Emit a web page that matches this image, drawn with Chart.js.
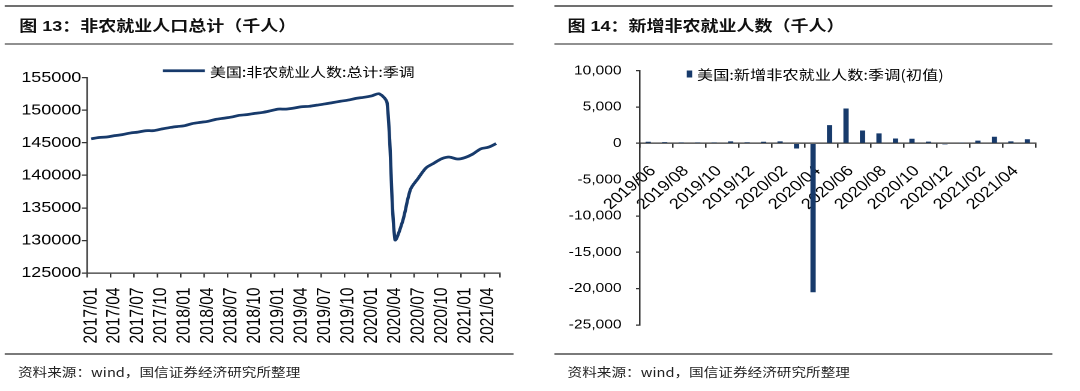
<!DOCTYPE html>
<html>
<head>
<meta charset="utf-8">
<script src="https://cdn.jsdelivr.net/npm/chart.js@4.4.1/dist/chart.umd.min.js"></script>
<style>
  html, body { margin: 0; padding: 0; background: #fff; }
  /* the source image is stretched sideways, so the page is laid out 900px wide and scaled */
  #page { position: absolute; left: 0; top: 0; width: 900px; height: 391px; transform: scaleX(1.2); transform-origin: 0 0; }
  .rule { position: absolute; }
  .title { position: absolute; height: 20px; line-height: 20px; white-space: nowrap; color: #111;
           font: bold 15px "Liberation Sans", "Noto Sans CJK SC", sans-serif; }
  .src { position: absolute; height: 18px; line-height: 18px; white-space: nowrap; color: #222;
         font: 12.2px "Noto Sans CJK SC", sans-serif; }
  canvas { position: absolute; }
</style>
</head>
<body>
<div id="page">
  <div class="rule" style="left:4px;top:5px;width:424px;height:2px;background:#707070"></div>
  <div class="title" style="left:16px;top:14px">图 13：非农就业人口总计（千人）</div>
  <div class="rule" style="left:4px;top:43px;width:424px;height:1.5px;background:#909090"></div>
  <canvas id="chartLeft" width="450" height="300" style="left:0;top:50px"></canvas>
  <div class="rule" style="left:4px;top:353px;width:424px;height:1.5px;background:#7a7a7a"></div>
  <div class="src" style="left:15px;top:363px">资料来源：wind，国信证券经济研究所整理</div>

  <div class="rule" style="left:462px;top:5px;width:415px;height:2px;background:#707070"></div>
  <div class="title" style="left:473px;top:14px">图 14：新增非农就业人数（千人）</div>
  <div class="rule" style="left:462px;top:43px;width:415px;height:1.5px;background:#909090"></div>
  <canvas id="chartRight" width="450" height="300" style="left:450px;top:50px"></canvas>
  <div class="rule" style="left:462px;top:353px;width:415px;height:1.5px;background:#7a7a7a"></div>
  <div class="src" style="left:473px;top:363px">资料来源：wind，国信证券经济研究所整理</div>
</div>

<script>
// 图13 data: monthly total nonfarm payrolls (thousands)
const monthsA = [
  '2017/01','2017/02','2017/03','2017/04','2017/05','2017/06','2017/07','2017/08','2017/09','2017/10','2017/11','2017/12',
  '2018/01','2018/02','2018/03','2018/04','2018/05','2018/06','2018/07','2018/08','2018/09','2018/10','2018/11','2018/12',
  '2019/01','2019/02','2019/03','2019/04','2019/05','2019/06','2019/07','2019/08','2019/09','2019/10','2019/11','2019/12',
  '2020/01','2020/02','2020/03','2020/04','2020/05','2020/06','2020/07','2020/08','2020/09','2020/10','2020/11','2020/12',
  '2021/01','2021/02','2021/03','2021/04','2021/05'
];
const payrolls = [
  145612, 145812, 145895, 146099, 146254, 146499, 146645, 146854, 146872, 147109, 147325, 147488,
  147631, 147956, 148137, 148306, 148598, 148776, 148954, 149220, 149325, 149521, 149667, 149908,
  150175, 150178, 150325, 150541, 150604, 150785, 150968, 151176, 151378, 151564, 151823, 151985,
  152199, 152523, 151090, 130161, 132994, 137840, 139566, 141149, 141865, 142545, 142809, 142503,
  142736, 143272, 144057, 144323, 144882
];
const yTicksA = { min: 125000, max: 155000, step: 5000 };

// 图14 data: monthly new nonfarm payrolls, first print (thousands)
const monthsB = [
  '2019/06','2019/07','2019/08','2019/09','2019/10','2019/11','2019/12',
  '2020/01','2020/02','2020/03','2020/04','2020/05','2020/06','2020/07','2020/08','2020/09','2020/10','2020/11','2020/12',
  '2021/01','2021/02','2021/03','2021/04','2021/05'
];
const newJobs = [
  224, 164, 130, 136, 128, 266, 145,
  225, 273, -701, -20500, 2509, 4800, 1763, 1371, 661, 638, 245, -140,
  49, 379, 916, 266, 559
];
const yTicksB = { min: -25000, max: 10000, step: 5000 };

const navy = '#173a6b';
const axisColor = '#333333';

Chart.defaults.font.family = '"Liberation Sans", Arial, sans-serif';
Chart.defaults.color = '#000';

// legend drawn inside the plot, over the top of the axis range like the original
const plotLegend = {
  id: 'plotLegend',
  afterDraw(chart, args, opts) {
    const ctx = chart.ctx;
    const area = chart.chartArea;
    const ds = chart.data.datasets[0];
    const x = area.left + opts.dx;
    const y = area.top + opts.dy;
    ctx.save();
    if (opts.marker === 'line') {
      ctx.strokeStyle = ds.borderColor;
      ctx.lineWidth = opts.lineWidth;
      ctx.beginPath();
      ctx.moveTo(x, y);
      ctx.lineTo(x + opts.w, y);
      ctx.stroke();
    } else {
      ctx.fillStyle = ds.backgroundColor;
      ctx.fillRect(x, y - opts.h / 2, opts.w, opts.h);
    }
    ctx.fillStyle = '#000';
    ctx.font = opts.font;
    ctx.textBaseline = 'middle';
    ctx.textAlign = 'left';
    ctx.fillText(ds.label, x + opts.w + opts.gap, y + 1);
    ctx.restore();
  }
};

new Chart(document.getElementById('chartLeft'), {
  type: 'line',
  data: {
    labels: monthsA,
    datasets: [{
      label: '美国:非农就业人数:总计:季调',
      data: payrolls,
      borderColor: navy,
      backgroundColor: navy,
      borderWidth: 2.75,
      pointRadius: 0,
      tension: 0.3,
      fill: false
    }]
  },
  options: {
    responsive: false,
    animation: false,
    devicePixelRatio: 2,
    events: [],
    layout: { padding: { top: 27.7, right: 33.3, bottom: 0, left: 0 } },
    plugins: {
      legend: { display: false },
      tooltip: { enabled: false },
      plotLegend: { marker: 'line', dx: 63, dy: -7, w: 35, gap: 4.2, lineWidth: 2.75, font: '13.3px "Noto Sans CJK SC"' }
    },
    scales: {
      x: {
        offset: true,
        grid: {
          offset: true,
          drawOnChartArea: false,
          tickLength: 4.5,
          lineWidth: 1.25,
          color: c => (c.type !== 'tick' || c.index % 3 === 0) ? axisColor : 'rgba(0,0,0,0)'
        },
        border: { color: axisColor, width: 1.25 },
        ticks: {
          autoSkip: false,
          minRotation: 90,
          maxRotation: 90,
          padding: 10,
          font: { size: 15.5 },
          callback: (v, i) => i % 3 === 0 ? monthsA[i] : ''
        },
        afterFit: s => { s.height = 77; }
      },
      y: {
        min: yTicksA.min,
        max: yTicksA.max,
        ticks: { stepSize: yTicksA.step, padding: 0.5, font: { size: 15 }, callback: v => String(v) },
        grid: { drawOnChartArea: false, tickLength: 4.5, lineWidth: 1.25, color: axisColor },
        border: { color: axisColor, width: 1.25 },
        afterFit: s => { s.width = 72.75; }
      }
    }
  },
  plugins: [plotLegend]
});

new Chart(document.getElementById('chartRight'), {
  type: 'bar',
  data: {
    labels: monthsB,
    datasets: [{
      label: '美国:新增非农就业人数:季调(初值)',
      data: newJobs,
      backgroundColor: navy,
      borderWidth: 0,
      barPercentage: 0.32,
      categoryPercentage: 1
    }]
  },
  options: {
    responsive: false,
    animation: false,
    devicePixelRatio: 2,
    events: [],
    layout: { padding: { top: 20.7, right: 37, bottom: 25, left: 0 } },
    plugins: {
      legend: { display: false },
      tooltip: { enabled: false },
      plotLegend: { marker: 'box', dx: 39, dy: 3.3, w: 4.5, h: 7, gap: 4, font: '13.5px "Noto Sans CJK SC"' }
    },
    scales: {
      x: {
        position: { y: 0 },
        offset: true,
        grid: {
          offset: true,
          drawOnChartArea: false,
          tickLength: 4,
          lineWidth: 1.25,
          color: c => (c.type !== 'tick' || c.index % 2 === 0) ? axisColor : 'rgba(0,0,0,0)'
        },
        border: { color: axisColor, width: 1.25 },
        ticks: {
          autoSkip: false,
          minRotation: 45,
          maxRotation: 45,
          padding: 15,
          labelOffset: 4,
          font: { size: 15 },
          callback: (v, i) => i % 2 === 0 ? monthsB[i] : ''
        }
      },
      y: {
        min: yTicksB.min,
        max: yTicksB.max,
        ticks: { stepSize: yTicksB.step, padding: 12, font: { size: 13 }, callback: v => v.toLocaleString('en-US') },
        grid: { drawOnChartArea: false, tickLength: 3.3, lineWidth: 1.25, color: axisColor },
        border: { color: axisColor, width: 1.25 },
        afterFit: s => { s.width = 83.3; }
      }
    }
  },
  plugins: [plotLegend]
});
</script>
</body>
</html>
